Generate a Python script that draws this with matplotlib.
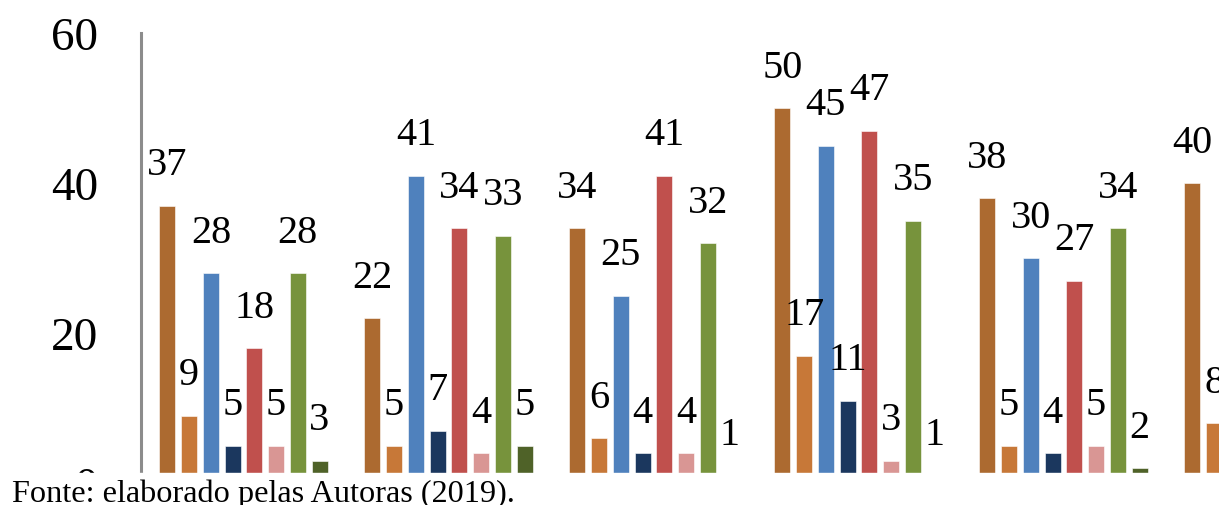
import matplotlib.pyplot as plt
import numpy as np

# values per series, one entry per group (group 6 is cut by the right edge)
nan = np.nan
serie_1 = [37, 22, 34, 50, 38, 40]
serie_2 = [9, 5, 6, 17, 5, 8]
serie_3 = [28, 41, 25, 45, 30, nan]
serie_4 = [5, 7, 4, 11, 4, nan]
serie_5 = [18, 34, 41, 47, 27, nan]
serie_6 = [5, 4, 4, 3, 5, nan]
serie_7 = [28, 33, 32, 35, 34, nan]
serie_8 = [3, 5, 1, 1, 2, nan]

series = [serie_1, serie_2, serie_3, serie_4, serie_5, serie_6, serie_7, serie_8]
cores = ['#AC6A30', '#C77838', '#4F81BD', '#1B375E',
         '#C0504D', '#D99694', '#77933C', '#4F6228']
yticks = [0, 20, 40, 60]
fonte = 'Fonte: elaborado pelas Autoras (2019).'

plt.rcParams['font.family'] = ['Liberation Serif', 'DejaVu Serif']

W, H = 1219, 506
fig = plt.figure(figsize=(W / 100, H / 100), dpi=100)
# axes: y=0 at pixel 484, y=60 at pixel 34, spine at x=141
ax = fig.add_axes([141 / W, (H - 484) / H, 1 - 141 / W, 450 / H])

n_groups = len(serie_1)
x = np.arange(n_groups)
passo = 0.106
largura = 0.078
for j, (vals, cor) in enumerate(zip(series, cores)):
    pos = x + (j - 3.5) * passo
    ax.bar(pos, vals, width=largura, color=cor, edgecolor='white', linewidth=0.4)
    for p, v in zip(pos, vals):
        if np.isnan(v):
            continue
        ax.annotate(f'{int(v)}', (p, v), xytext=(0, 16), textcoords='offset points',
                    ha='center', va='bottom', fontsize=29, annotation_clip=False)

ax.set_ylim(0, 60)
ax.set_xlim(-0.5, -0.5 + (W - 141) / 205)
ax.set_yticks(yticks)
ax.tick_params(axis='y', length=0, pad=31, labelsize=34)
ax.set_xticks([])
for s in ['top', 'right', 'bottom']:
    ax.spines[s].set_visible(False)
ax.spines['left'].set_color('#8C8C8C')
ax.spines['left'].set_linewidth(2.2)

# white band with the source note covering the bottom of the chart
fig.patches.append(plt.Rectangle((0, 0), 1, (H - 474) / H, transform=fig.transFigure,
                                 color='white', zorder=10))
fig.text(12 / W, 4 / H, fonte, fontsize=23.2, ha='left', va='baseline', zorder=11)

fig.savefig('out.png', dpi=100)
